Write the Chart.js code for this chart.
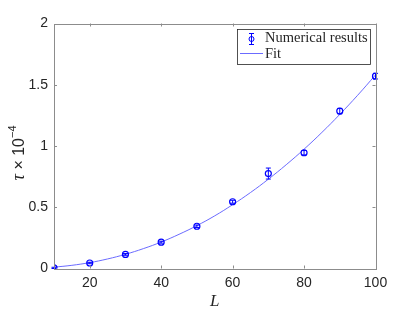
<!DOCTYPE html>
<html>
<head>
<meta charset="utf-8">
<script src="https://cdn.jsdelivr.net/npm/chart.js@4"></script>
<style>
  html, body { margin: 0; padding: 0; background: #fff; }
  #wrap { width: 415px; height: 312px; }
</style>
</head>
<body>
<div id="wrap"><canvas id="tauChart" width="415" height="312"></canvas></div>
<script>
// data
const sizes = [10, 20, 30, 40, 50, 60, 70, 80, 90, 100];
const tauValues = [0.005, 0.045, 0.115, 0.215, 0.345, 0.545, 0.775, 0.945, 1.285, 1.57];
const tauErrors = [0.005, 0.006, 0.007, 0.008, 0.01, 0.012, 0.045, 0.018, 0.022, 0.023];
const fitSizes = [10, 15, 20, 25, 30, 35, 40, 45, 50, 55, 60, 65, 70, 75, 80, 85, 90, 95, 100];
const fitValues = [0.011, 0.026, 0.048, 0.078, 0.116, 0.162, 0.216, 0.279, 0.35, 0.43, 0.521, 0.62, 0.729, 0.847, 0.974, 1.111, 1.258, 1.414, 1.58];
const xTicks = [20, 40, 60, 80, 100];
const yTicks = [0, 0.5, 1, 1.5, 2];

const AXIS = '#8c8c8c';
const TEXT = '#262626';
const BLUE = '#0000ff';
const FITBLUE = '#6b6bff';

// error bars on the first dataset
const errorBars = {
  id: 'errorBars',
  afterDatasetsDraw(chart) {
    const ctx = chart.ctx;
    const xs = chart.scales.x;
    const ys = chart.scales.y;
    ctx.save();
    ctx.strokeStyle = BLUE;
    ctx.lineWidth = 1;
    sizes.forEach((s, i) => {
      const px = xs.getPixelForValue(s);
      const top = ys.getPixelForValue(tauValues[i] + tauErrors[i]);
      const bot = ys.getPixelForValue(tauValues[i] - tauErrors[i]);
      ctx.beginPath();
      ctx.moveTo(px, top); ctx.lineTo(px, bot);
      ctx.moveTo(px - 2.5, top); ctx.lineTo(px + 2.5, top);
      ctx.moveTo(px - 2.5, bot); ctx.lineTo(px + 2.5, bot);
      ctx.stroke();
    });
    ctx.restore();
  }
};

// matlab style box, inner ticks, labels and legend
const matlabFrame = {
  id: 'matlabFrame',
  afterDraw(chart) {
    const ctx = chart.ctx;
    const a = chart.chartArea;
    const xs = chart.scales.x;
    const ys = chart.scales.y;
    ctx.save();
    ctx.strokeStyle = AXIS;
    ctx.lineWidth = 1;
    ctx.strokeRect(Math.round(a.left) + 0.5, Math.round(a.top) + 0.5,
      Math.round(a.right - a.left), Math.round(a.bottom - a.top));
    ctx.beginPath();
    xTicks.forEach((t) => {
      const px = Math.round(xs.getPixelForValue(t)) + 0.5;
      ctx.moveTo(px, a.bottom); ctx.lineTo(px, a.bottom - 3);
      ctx.moveTo(px, a.top); ctx.lineTo(px, a.top + 3);
    });
    yTicks.forEach((t) => {
      const py = Math.round(ys.getPixelForValue(t)) + 0.5;
      ctx.moveTo(a.left, py); ctx.lineTo(a.left + 3, py);
      ctx.moveTo(a.right, py); ctx.lineTo(a.right - 3, py);
    });
    ctx.stroke();

    // x label
    ctx.fillStyle = TEXT;
    ctx.font = 'italic 17px "Liberation Serif", serif';
    ctx.textAlign = 'center';
    ctx.textBaseline = 'alphabetic';
    ctx.fillText('L', (a.left + a.right) / 2, 306);

    // y label, rotated
    ctx.save();
    ctx.translate(24, 153);
    ctx.rotate(-Math.PI / 2);
    ctx.textAlign = 'left';
    const parts = [
      ['italic 18px "Liberation Serif", serif', 'τ', 0],
      ['16px "Liberation Sans", Arial, sans-serif', ' × 10', 0],
      ['11px "Liberation Sans", Arial, sans-serif', '−4', -8]
    ];
    let w = 0;
    parts.forEach((p) => { ctx.font = p[0]; w += ctx.measureText(p[1]).width; });
    let x0 = -w / 2;
    parts.forEach((p) => {
      ctx.font = p[0];
      ctx.fillText(p[1], x0, p[2]);
      x0 += ctx.measureText(p[1]).width;
    });
    ctx.restore();

    // legend
    const lx = 237.5, ly = 29.5, lw = 133, lh = 35;
    ctx.fillStyle = '#fff';
    ctx.fillRect(lx, ly, lw, lh);
    ctx.strokeStyle = TEXT;
    ctx.lineWidth = 0.8;
    ctx.strokeRect(lx, ly, lw, lh);
    ctx.strokeStyle = BLUE;
    ctx.lineWidth = 1;
    ctx.beginPath();
    ctx.moveTo(251.5, 33); ctx.lineTo(251.5, 45);
    ctx.moveTo(249, 33.5); ctx.lineTo(254, 33.5);
    ctx.moveTo(249, 44.5); ctx.lineTo(254, 44.5);
    ctx.stroke();
    ctx.beginPath();
    ctx.arc(251.5, 39, 2.5, 0, Math.PI * 2);
    ctx.stroke();
    ctx.strokeStyle = FITBLUE;
    ctx.beginPath();
    ctx.moveTo(240, 53.5); ctx.lineTo(263, 53.5);
    ctx.stroke();
    ctx.fillStyle = TEXT;
    ctx.font = '14.5px "Liberation Serif", serif';
    ctx.textAlign = 'left';
    ctx.textBaseline = 'middle';
    ctx.fillText('Numerical results', 265, 38.5);
    ctx.fillText('Fit', 265, 54);
    ctx.restore();
  }
};

const ctx = document.getElementById('tauChart');

new Chart(ctx, {
  type: 'scatter',
  data: {
    datasets: [
      {
        label: 'Numerical results',
        data: sizes.map((s, i) => ({ x: s, y: tauValues[i] })),
        borderColor: BLUE,
        backgroundColor: 'rgba(0,0,0,0)',
        borderWidth: 1.2,
        pointRadius: 3,
        showLine: false,
        order: 1,
      },
      {
        label: 'Fit',
        type: 'line',
        data: fitSizes.map((s, i) => ({ x: s, y: fitValues[i] })),
        borderColor: FITBLUE,
        borderWidth: 1,
        pointRadius: 0,
        fill: false,
        tension: 0.4,
        order: 2,
      },
    ],
  },
  options: {
    responsive: false,
    animation: false,
    events: [],
    layout: {
      padding: { left: 0, right: 39.5, top: 23.5, bottom: 0 },
    },
    plugins: {
      legend: { display: false },
      tooltip: { enabled: false },
    },
    scales: {
      x: {
        type: 'linear',
        min: 10,
        max: 100,
        grid: { display: false, drawTicks: false },
        border: { display: false },
        afterBuildTicks: (scale) => {
          scale.ticks = xTicks.map((v) => ({ value: v }));
        },
        afterFit: (scale) => { scale.height = 43.5; },
        ticks: {
          color: TEXT,
          padding: 6,
          maxRotation: 0,
          font: { family: '"Liberation Sans", Arial, sans-serif', size: 14 },
        },
      },
      y: {
        type: 'linear',
        min: 0,
        max: 2,
        grid: { display: false, drawTicks: false },
        border: { display: false },
        afterBuildTicks: (scale) => {
          scale.ticks = yTicks.map((v) => ({ value: v }));
        },
        afterFit: (scale) => { scale.width = 54; },
        ticks: {
          color: TEXT,
          padding: 6,
          callback: (v) => String(v),
          font: { family: '"Liberation Sans", Arial, sans-serif', size: 14 },
        },
      },
    },
  },
  plugins: [errorBars, matlabFrame],
});
</script>
</body>
</html>
